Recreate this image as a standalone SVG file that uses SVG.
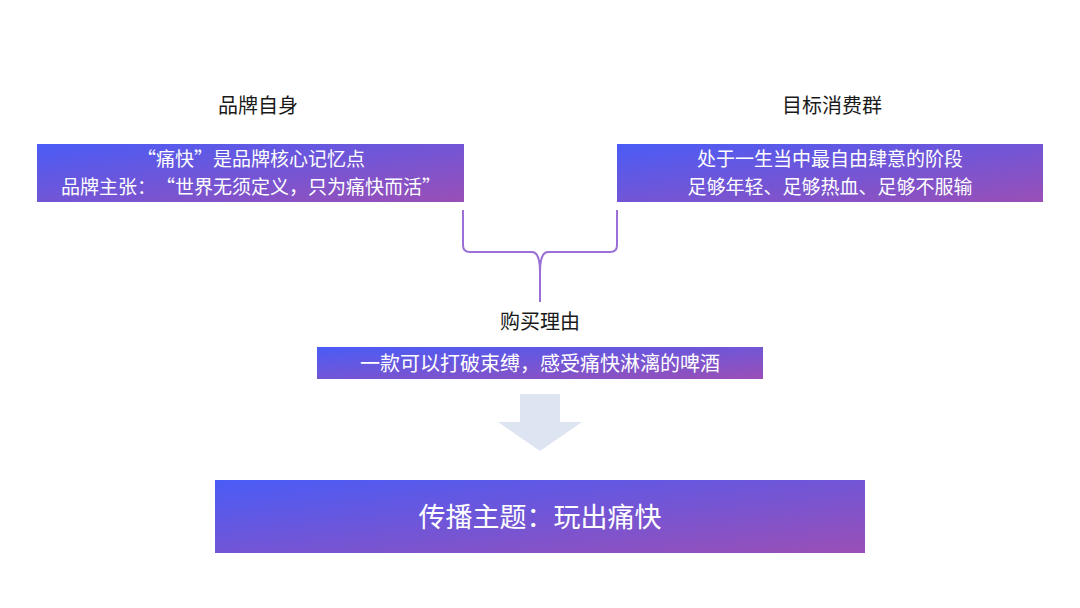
<svg xmlns="http://www.w3.org/2000/svg" width="1080" height="608" viewBox="0 0 1080 608">
<defs>
<linearGradient id="g" x1="0" y1="0" x2="1" y2="1">
<stop offset="0" stop-color="#4a5cf6"/>
<stop offset="1" stop-color="#9a4fb6"/>
</linearGradient>
<style>
text{text-spacing-trim:space-all}
.lbl{font-family:"Noto Sans CJK SC","Liberation Sans",sans-serif;font-size:20px;fill:#1a1a1a;text-anchor:middle}
.wt{font-family:"Noto Sans CJK SC","Liberation Sans",sans-serif;font-size:20px;fill:#ffffff;text-anchor:middle}
.sm{font-size:19px}
.box{fill:url(#g)}
.brace{fill:none;stroke:#9b70d6;stroke-width:2}
</style>
</defs>
<rect width="1080" height="608" fill="#ffffff"/>
<g id="brand">
<text class="lbl" x="258" y="113">品牌自身</text>
<rect class="box" x="37" y="144" width="427" height="58"/>
<text class="wt sm" x="251" y="166">“痛快”是品牌核心记忆点</text>
<text class="wt sm" x="251" y="194">品牌主张：“世界无须定义，只为痛快而活”</text>
</g>
<g id="target">
<text class="lbl" x="832" y="113">目标消费群</text>
<rect class="box" x="617" y="144" width="426" height="58"/>
<text class="wt sm" x="830" y="166">处于一生当中最自由肆意的阶段</text>
<text class="wt sm" x="830" y="194">足够年轻、足够热血、足够不服输</text>
</g>
<g id="connectors">
<path class="brace" d="M463,210 V245 Q463,252 470,252 H532 Q540,252 540,272 V302"/>
<path class="brace" d="M617,210 V245 Q617,252 610,252 H548 Q540,252 540,272"/>
<polygon id="arrow" points="520,394 560,394 560,422 582,422 540,451 498,422 520,422" fill="#dde4f2"/>
</g>
<g id="reason">
<text class="lbl" x="540" y="329">购买理由</text>
<rect class="box" x="317" y="347" width="446" height="32"/>
<text class="wt" x="540" y="371">一款可以打破束缚，感受痛快淋漓的啤酒</text>
</g>
<g id="theme">
<rect class="box" x="215" y="480" width="650" height="73"/>
<text class="wt" x="540" y="527" style="font-size:27px">传播主题：玩出痛快</text>
</g>
</svg>
